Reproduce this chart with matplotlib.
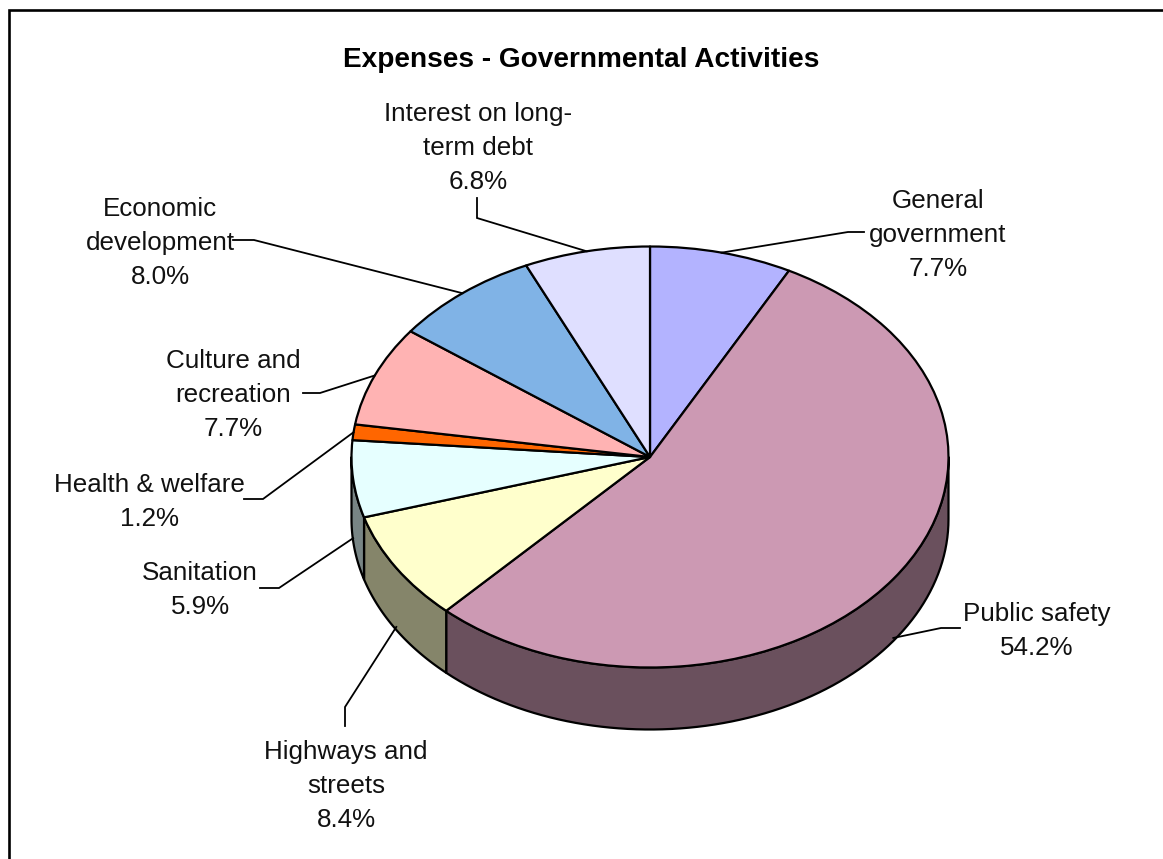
#!/usr/bin/env python
"""Expenses by governmental activity, drawn as a tilted pie with a visible rim."""
import numpy as np
import matplotlib
matplotlib.use("Agg")
import matplotlib.pyplot as plt
from matplotlib.lines import Line2D
from matplotlib.patches import Polygon

W, H = 1163, 859
plt.rcParams["font.family"] = ["Liberation Sans", "DejaVu Sans"]

title = "Expenses - Governmental Activities"
labels = ["General\ngovernment", "Public safety", "Highways and\nstreets", "Sanitation",
          "Health & welfare", "Culture and\nrecreation", "Economic\ndevelopment",
          "Interest on long-\nterm debt"]
shares = [7.7, 54.2, 8.4, 5.9, 1.2, 7.7, 8.0, 6.8]
colors = ["#B3B3FF", "#CC99B3", "#FFFFCC", "#E6FFFF", "#FF6600", "#FFB3B3", "#80B3E6", "#DFDFFF"]

# pie placement in pixels
CX, CY, RX, RY, DEPTH = 650, 457, 298.5, 210.5, 62
LW = 1.6

# label centre and leader elbow/start, pixels from top-left
label_pos = [(938, 235), (1037, 631), (346, 786), (200, 590),
             (149, 502), (233, 395), (160, 243), (478, 148)]
leader_pts = [[(864, 232), (848, 232)], [(960, 628), (941, 628)], [(345, 726), (345, 707)],
              [(260, 588), (279, 588)], [(244, 499), (263, 499)], [(303, 393), (320, 393)],
              [(233, 240), (254, 240)], [(477, 198), (477, 218)]]

fx = lambda x: x / W
fy = lambda y: 1 - y / H

fig = plt.figure(figsize=(W / 100, H / 100), dpi=100, facecolor="white")
ax = fig.add_axes([0, 0, 1, 1])

ax.pie(shares, colors=colors, startangle=90, counterclock=False, radius=1,
       wedgeprops=dict(edgecolor="black", linewidth=LW, joinstyle="round"))
ax.set_aspect("auto")
ax.set_xlim(-CX / RX, (W - CX) / RX)
ax.set_ylim((CY - H) / RY, CY / RY)
ax.axis("off")

# rim: the part of each slice between 90 and 270 degrees clockwise from the top
d = DEPTH / RY
edges = np.cumsum([0] + shares) / sum(shares) * 360
for a0, a1, col in zip(edges[:-1], edges[1:], colors):
    lo, hi = max(a0, 90), min(a1, 270)
    if hi <= lo:
        continue
    t = np.radians(np.linspace(lo, hi, 80))
    top = np.column_stack([np.sin(t), np.cos(t)])
    bot = top[::-1] - [0, d]
    shade = tuple(c * 0.52 for c in matplotlib.colors.to_rgb(col))
    ax.add_patch(Polygon(np.vstack([top, bot]), closed=True, facecolor=shade,
                         edgecolor="black", linewidth=LW, joinstyle="round", zorder=0.5))

# leaders run from the label elbow to the middle of the slice's outer edge
mids = np.radians((edges[:-1] + edges[1:]) / 2)
for m, pts in zip(mids, leader_pts):
    ex = CX + RX * np.sin(m)
    ey = CY - RY * np.cos(m)
    if np.pi / 2 < m < 3 * np.pi / 2:
        ey += DEPTH - 3
    xs = [p[0] for p in pts] + [ex]
    ys = [p[1] for p in pts] + [ey]
    fig.add_artist(Line2D([fx(x) for x in xs], [fy(y) for y in ys], color="black", lw=1.3,
                          transform=fig.transFigure, solid_joinstyle="miter"))

for name, val, (x, y) in zip(labels, shares, label_pos):
    fig.text(fx(x), fy(y), f"{name}\n{val:.1f}%", ha="center", va="center", fontsize=18.7,
             linespacing=1.52, color="#111111")

fig.text(fx(581), fy(60), title, ha="center", va="center", fontsize=20.2, fontweight="bold",
         color="black")

# chart frame: only the top and left edges fall inside the figure
fig.add_artist(Line2D([fx(9), fx(9), fx(W)], [fy(H), fy(10), fy(10)], color="black", lw=1.9,
                      transform=fig.transFigure, solid_joinstyle="miter"))

fig.savefig("out.png", dpi=100, facecolor="white")
